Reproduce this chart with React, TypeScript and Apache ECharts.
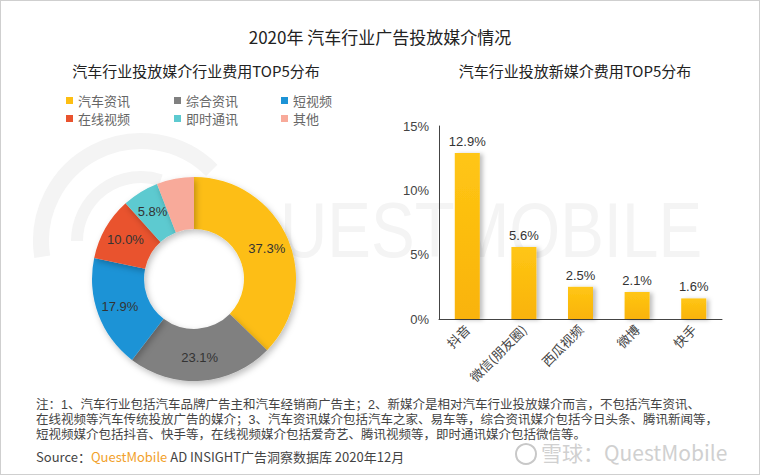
import React, { useEffect, useRef } from "react";
import * as echarts from "echarts";

const pieNames = ["汽车资讯", "综合资讯", "短视频", "在线视频", "即时通讯", "其他"];
const pieValues = [37.3, 23.1, 17.9, 10.0, 5.8, 5.9];
const pieColors = ["#FDBE12", "#808080", "#1C93D6", "#E9532E", "#5DCAD0", "#F8AA9A"];

const barCategories = ["抖音", "微信(朋友圈)", "西瓜视频", "微博", "快手"];
const barValues = [12.9, 5.6, 2.5, 2.1, 1.6];
const yTicks = { min: 0, max: 15, interval: 5 };

const noteLines = [
  "注：1、汽车行业包括汽车品牌广告主和汽车经销商广告主；2、新媒介是相对汽车行业投放媒介而言，不包括汽车资讯、",
  "在线视频等汽车传统投放广告的媒介；3、汽车资讯媒介包括汽车之家、易车等，综合资讯媒介包括今日头条、腾讯新闻等，",
  "短视频媒介包括抖音、快手等，在线视频媒介包括爱奇艺、腾讯视频等，即时通讯媒介包括微信等。",
];

const FONT = "'Noto Sans CJK SC', 'Noto Sans', sans-serif";
const NUMFONT = "'Liberation Sans', 'Noto Sans CJK SC', sans-serif";

const legendCols = [60, 168, 275];
const legendRows = [88, 106];

export default function App() {
  const ref = useRef<HTMLDivElement>(null);
  useEffect(() => {
    if (!ref.current) return;
    const chart = echarts.init(ref.current, null, { renderer: "svg" });
    const legends = pieNames.map((n, i) => ({
      orient: "horizontal",
      left: legendCols[i % 3],
      top: legendRows[Math.floor(i / 3)],
      icon: "rect",
      itemWidth: 7,
      itemHeight: 7,
      itemGap: 10,
      textStyle: { fontFamily: FONT, fontSize: 13, color: "#666" },
      data: [n],
    }));
    chart.setOption({
      animation: false,
      backgroundColor: "#fff",
      title: [
        { text: "2020年 汽车行业广告投放媒介情况", left: "center", top: 22, textStyle: { fontFamily: FONT, fontSize: 17, fontWeight: "normal", color: "#222" } },
        { text: "汽车行业投放媒介行业费用TOP5分布", left: 190, textAlign: "center", top: 57, textStyle: { fontFamily: FONT, fontSize: 15, fontWeight: "normal", color: "#222" } },
        { text: "汽车行业投放新媒介费用TOP5分布", left: 569, textAlign: "center", top: 57, textStyle: { fontFamily: FONT, fontSize: 15, fontWeight: "normal", color: "#222" } },
      ],
      legend: legends,
      grid: { left: 438, right: 37, top: 125, bottom: 155, containLabel: false },
      xAxis: {
        type: "category",
        data: barCategories,
        axisLine: { lineStyle: { color: "#444", width: 1 } },
        axisTick: { show: false },
        axisLabel: { rotate: 45, fontFamily: FONT, fontSize: 13, color: "#444", margin: 8 },
      },
      yAxis: {
        type: "value",
        min: yTicks.min,
        max: yTicks.max,
        interval: yTicks.interval,
        axisLine: { show: true, lineStyle: { color: "#444", width: 1 } },
        axisTick: { show: false },
        splitLine: { show: false },
        axisLabel: { formatter: "{value}%", fontFamily: NUMFONT, fontSize: 13, color: "#444", margin: 10 },
      },
      graphic: [
        { type: "arc", z: -10, shape: { cx: 140, cy: 240, r: 100, startAngle: Math.PI * 0.95, endAngle: Math.PI * 1.75 }, style: { stroke: "#f4f4f4", lineWidth: 16, fill: "none" } },
        { type: "arc", z: -10, shape: { cx: 140, cy: 240, r: 64, startAngle: Math.PI * 1.0, endAngle: Math.PI * 1.6 }, style: { stroke: "#f4f4f4", lineWidth: 12, fill: "none" } },
        { type: "text", z: -10, x: 228, y: 190, scaleX: 0.84, style: { text: "QUESTMOBILE", fontFamily: "'Liberation Sans', sans-serif", fontSize: 78, fill: "#f4f4f4" } },
        {
          type: "text",
          left: 35,
          top: 396,
          style: { text: noteLines.join("\n"), fontFamily: NUMFONT, fontSize: 12.5, lineHeight: 15, fill: "#444" },
        },
        {
          type: "text",
          left: 35,
          top: 449,
          style: {
            text: "{a|Source：}{b|QuestMobile}{a| AD INSIGHT广告洞察数据库 2020年12月}",
            rich: {
              a: { fontFamily: FONT, fontSize: 13, lineHeight: 15, fill: "#444", color: "#444" },
              b: { fontFamily: FONT, fontSize: 13, lineHeight: 15, fill: "#F2A12A", color: "#F2A12A" },
            },
          },
        },
        { type: "circle", shape: { cx: 525, cy: 453, r: 10 }, style: { fill: "none", stroke: "#c8c8c8", lineWidth: 2 } },
        { type: "text", left: 540, top: 440, style: { text: "雪球：QuestMobile", fontFamily: FONT, fontSize: 21, fill: "#d0d0d0" } },
      ],
      series: [
        {
          type: "pie",
          center: [193, 278],
          radius: [50, 102],
          startAngle: 90,
          clockwise: true,
          avoidLabelOverlap: false,
          label: {
            show: true,
            position: "inside",
            formatter: (p: any) => p.value.toFixed(1) + "%",
            fontFamily: NUMFONT,
            fontSize: 13,
            color: "#333",
          },
          labelLine: { show: false },
          itemStyle: { shadowBlur: 6, shadowColor: "rgba(0,0,0,0.25)", shadowOffsetX: 2, shadowOffsetY: 3 },
          data: pieNames.map((n, i) => ({ name: n, value: pieValues[i], itemStyle: { color: pieColors[i] } })),
        },
        {
          type: "bar",
          data: barValues,
          barWidth: 25,
          itemStyle: {
            color: new echarts.graphic.LinearGradient(0, 0, 0, 1, [
              { offset: 0, color: "#FFC614" },
              { offset: 1, color: "#F9B30A" },
            ]),
            shadowBlur: 4,
            shadowColor: "rgba(0,0,0,0.25)",
            shadowOffsetX: 3,
            shadowOffsetY: 1,
          },
          label: {
            show: true,
            position: "top",
            distance: 5,
            formatter: (p: any) => p.value.toFixed(1) + "%",
            fontFamily: NUMFONT,
            fontSize: 13,
            color: "#333",
          },
        },
      ],
    });
    return () => chart.dispose();
  }, []);
  return (
    <div
      style={{
        position: "absolute",
        left: 0,
        top: 0,
        width: 760,
        height: 475,
        boxSizing: "border-box",
        border: "1px solid #cfcfcf",
        background: "#fff",
      }}
    >
      <div ref={ref} style={{ width: 758, height: 473 }} />
    </div>
  );
}
